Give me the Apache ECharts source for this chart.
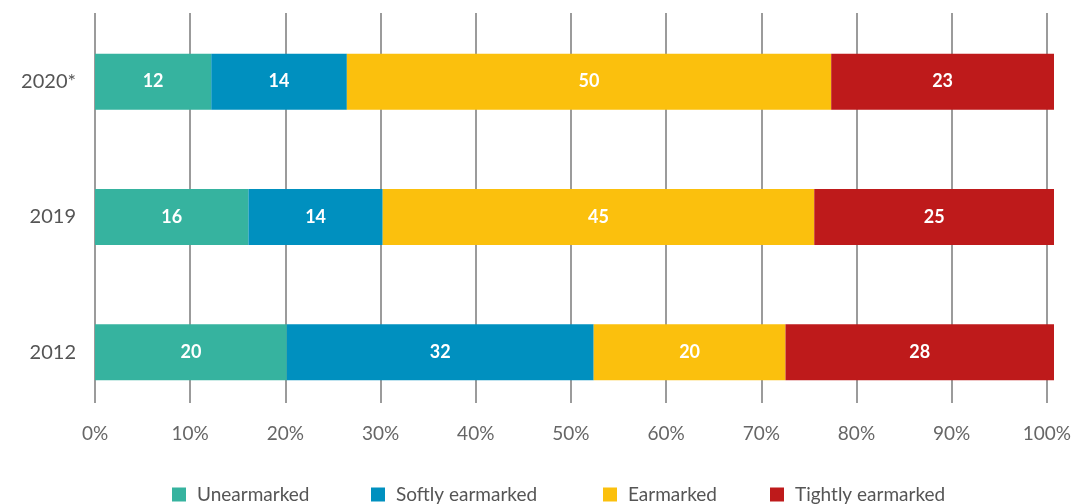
<!DOCTYPE html>
<html>
<head>
<meta charset="utf-8">
<style>
  html, body { margin: 0; padding: 0; background: #fff; }
  #chart { width: 1074px; height: 504px; }
</style>
<script src="https://cdn.jsdelivr.net/npm/echarts@6/dist/echarts.min.js"></script>
</head>
<body>
<div id="chart"></div>
<script>
// Years, bottom to top
const years = ['2012', '2019', '2020*'];

// Share of funding by earmarking type (percent, as labelled)
const unearmarked = [20, 16, 12];
const softlyEarmarked = [32, 14, 14];
const earmarked = [20, 45, 50];
const tightlyEarmarked = [28, 25, 23];

const seriesNames = ['Unearmarked', 'Softly earmarked', 'Earmarked', 'Tightly earmarked'];
const seriesColors = ['#36B39F', '#0090BF', '#FBC00D', '#BE1A1B'];
const tickLabels = ['0%', '10%', '20%', '30%', '40%', '50%', '60%', '70%', '80%', '90%', '100%'];

const allSeries = [unearmarked, softlyEarmarked, earmarked, tightlyEarmarked];
// Each bar is scaled to its year's total so the stack fills 100%
const rowTotals = years.map((_, i) => allSeries.reduce((s, arr) => s + arr[i], 0));

const FONT = 'Lato, "Open Sans", sans-serif';

const chart = echarts.init(document.getElementById('chart'), null, { renderer: 'canvas' });

const legendLefts = [172, 371, 603, 770];

chart.setOption({
  animation: false,
  backgroundColor: '#ffffff',
  grid: [
    // gridlines + tick labels
    { left: 95, right: 20, top: 13, bottom: 101 },
    // bars
    { left: 95, right: 20, top: 14, height: 406 }
  ],
  legend: seriesNames.map((name, i) => ({
    data: [name],
    left: legendLefts[i],
    top: 485,
    padding: 0,
    itemWidth: 14,
    itemHeight: 14,
    icon: 'rect',
    itemGap: 0,
    textStyle: { fontFamily: FONT, fontSize: 19, color: '#555', padding: [0, 0, 0, 6] }
  })),
  xAxis: [
    {
      gridIndex: 0,
      type: 'value',
      min: 0,
      max: 100,
      interval: 10,
      axisLine: { show: false },
      axisTick: { show: false },
      splitLine: { show: true, lineStyle: { color: '#7a7a7a', width: 1.5 } },
      axisLabel: {
        margin: 21,
        fontFamily: FONT,
        fontSize: 19,
        color: '#666',
        formatter: (v) => tickLabels[Math.round(v / 10)]
      }
    },
    {
      gridIndex: 1,
      type: 'value',
      min: 0,
      max: 100,
      show: false
    }
  ],
  yAxis: [
    {
      gridIndex: 0,
      type: 'category',
      data: years,
      show: false
    },
    {
      gridIndex: 1,
      type: 'category',
      data: years,
      axisLine: { show: false },
      axisTick: { show: false },
      splitLine: { show: false },
      axisLabel: {
        margin: 19,
        fontFamily: FONT,
        fontSize: 20,
        color: '#555'
      }
    }
  ],
  series: allSeries.map((arr, si) => ({
    name: seriesNames[si],
    type: 'bar',
    xAxisIndex: 1,
    yAxisIndex: 1,
    stack: 'total',
    barWidth: 56,
    itemStyle: { color: seriesColors[si] },
    label: {
      show: true,
      position: 'inside',
      color: '#ffffff',
      fontFamily: FONT,
      fontWeight: 'bold',
      fontSize: 18,
      formatter: (p) => String(arr[p.dataIndex])
    },
    data: arr.map((v, i) => (v / rowTotals[i]) * 100)
  }))
});
</script>
</body>
</html>
